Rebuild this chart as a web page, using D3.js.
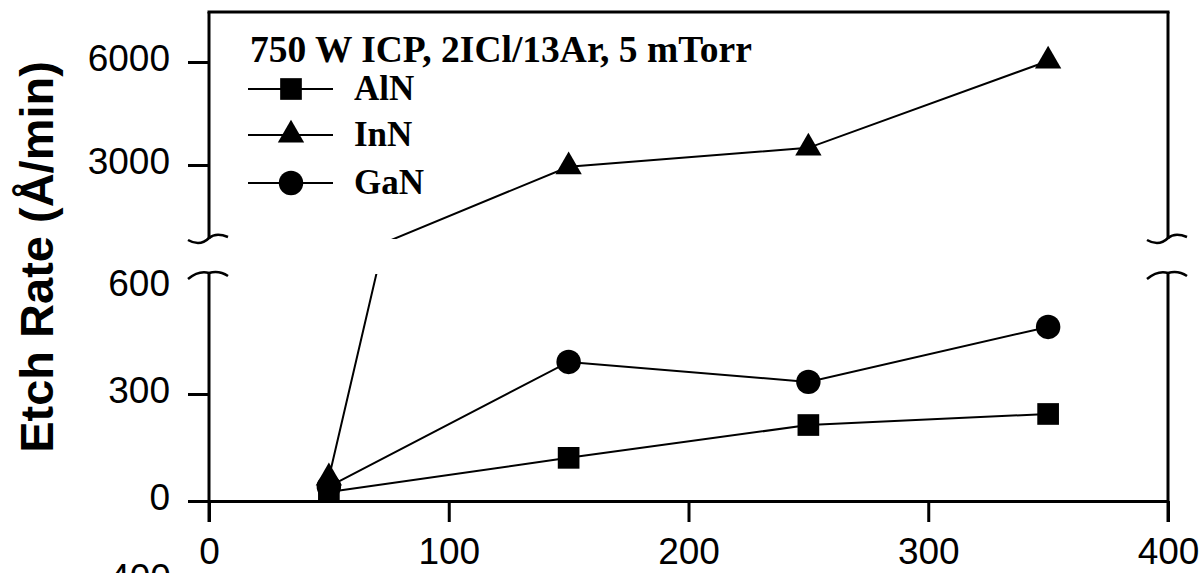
<!DOCTYPE html>
<html lang="en">
<head>
    <meta charset="UTF-8">
    <title>Etch Rate vs power</title>
    <script src="https://d3js.org/d3.v7.min.js"></script>
    <style>
        body { margin: 0; background: white; }
        .tick text { font-family: "Liberation Sans", Arial, sans-serif; }
    </style>
</head>
<body>
    <div id="plot"></div>
    <script>
        // data
        const xValues = [50, 150, 250, 350];
        const alnRates = [25, 121, 213, 244];
        const innRates = [65, 2950, 3500, 6030];
        const ganRates = [40, 390, 334, 488];
        const seriesNames = ["AlN", "InN", "GaN"];
        const xTicks = [0, 100, 200, 300, 400];
        const lowTicks = [0, 300, 600];
        const highTicks = [3000, 6000];
        const legendTitle = "750 W ICP, 2ICl/13Ar, 5 mTorr";
        const yTitle = "Etch Rate (Å/min)";

        const width = 1200;
        const height = 573;
        const left = 209, right = 1168;
        const frameTop = 12;
        const lowBreak = 273, highBreak = 239;
        const tickFont = 37;

        const svg = d3.select("#plot")
            .append("svg")
            .attr("width", width)
            .attr("height", height);

        const x = d3.scaleLinear().domain([0, 400]).range([left, right]);
        const yLow = d3.scaleLinear().domain([0, 600]).range([501, 287]);
        const yHigh = d3.scaleLinear().domain([3000, 6000]).range([165, 62]);

        // clip regions for the two parts of the broken axis
        const defs = svg.append("defs");
        defs.append("clipPath").attr("id", "clipLow")
            .append("rect").attr("x", 150).attr("y", lowBreak + 1).attr("width", 1050).attr("height", 560 - lowBreak);
        defs.append("clipPath").attr("id", "clipHigh")
            .append("rect").attr("x", 150).attr("y", frameTop).attr("width", 1050).attr("height", highBreak - frameTop);

        // x axis
        const xAxis = svg.append("g")
            .attr("transform", `translate(0,${yLow(0)})`)
            .call(d3.axisBottom(x).tickValues(xTicks).tickFormat(d3.format("d"))
                .tickSize(21).tickSizeOuter(0).tickPadding(16));
        xAxis.selectAll("path, line").attr("stroke-width", 3);
        xAxis.selectAll("text").attr("font-size", tickFont);

        // y axes (lower and upper parts)
        const lowAxis = svg.append("g")
            .attr("transform", `translate(${left},0)`)
            .call(d3.axisLeft(yLow).tickValues(lowTicks).tickFormat(d3.format("d")).tickSize(21).tickPadding(18));
        lowAxis.select(".domain").remove();
        lowAxis.selectAll("line").attr("stroke-width", 3);
        lowAxis.selectAll(".tick").filter(d => d === 600).select("line").remove();
        lowAxis.selectAll("text").attr("font-size", tickFont).attr("dy", "0.24em");

        const highAxis = svg.append("g")
            .attr("transform", `translate(${left},0)`)
            .call(d3.axisLeft(yHigh).tickValues(highTicks).tickFormat(d3.format("d")).tickSize(21).tickPadding(18));
        highAxis.select(".domain").remove();
        highAxis.selectAll("line").attr("stroke-width", 3);
        highAxis.selectAll("text").attr("font-size", tickFont).attr("dy", "0.24em");

        // frame lines
        const frame = svg.append("g").attr("stroke", "black").attr("stroke-width", 3).attr("fill", "none");
        [left, right].forEach(xp => {
            frame.append("line").attr("x1", xp).attr("x2", xp).attr("y1", lowBreak).attr("y2", 522);
            frame.append("line").attr("x1", xp).attr("x2", xp).attr("y1", frameTop).attr("y2", highBreak);
            // break marks
            frame.append("path").attr("stroke-width", 2.5)
                .attr("d", `M${xp - 21},${highBreak + 1} Q${xp - 9},${highBreak + 8} ${xp},${highBreak - 1} Q${xp + 7},${highBreak - 7} ${xp + 19},${highBreak - 2}`);
            frame.append("path").attr("stroke-width", 2.5)
                .attr("d", `M${xp - 21},${lowBreak + 6} Q${xp - 10},${lowBreak - 3} ${xp},${lowBreak} Q${xp + 10},${lowBreak - 3} ${xp + 19},${lowBreak + 3}`);
        });
        frame.append("line").attr("x1", left - 1.5).attr("x2", right + 1.5).attr("y1", frameTop).attr("y2", frameTop);

        // series
        const series = [
            { name: seriesNames[0], values: alnRates, symbol: d3.symbolSquare, size: 470 },
            { name: seriesNames[1], values: innRates, symbol: d3.symbolTriangle, size: 300 },
            { name: seriesNames[2], values: ganRates, symbol: d3.symbolCircle, size: 470 }
        ];

        const segments = [
            { scale: yLow, clip: "url(#clipLow)", has: v => v < 700 },
            { scale: yHigh, clip: "url(#clipHigh)", has: v => v >= 700 }
        ];

        segments.forEach(seg => {
            const g = svg.append("g").attr("clip-path", seg.clip);
            const line = d3.line()
                .x((d, i) => x(xValues[i]))
                .y(d => seg.scale(d));
            series.forEach(s => {
                g.append("path")
                    .attr("d", line(s.values))
                    .attr("fill", "none")
                    .attr("stroke", "black")
                    .attr("stroke-width", 2);
            });
            series.forEach(s => {
                g.selectAll(null)
                    .data(s.values.map((v, i) => ({ x: xValues[i], y: v })).filter(d => seg.has(d.y)))
                    .enter()
                    .append("path")
                    .attr("d", d3.symbol().type(s.symbol).size(s.size))
                    .attr("transform", d => `translate(${x(d.x)},${seg.scale(d.y)})`)
                    .attr("fill", "black");
            });
        });

        // legend
        svg.append("text")
            .attr("x", 250)
            .attr("y", 62)
            .attr("font-family", "Liberation Serif, Times New Roman, serif")
            .attr("font-weight", "bold")
            .attr("font-size", 37.5)
            .text(legendTitle);

        const legendY = [89, 135, 183];
        series.forEach((s, i) => {
            const lg = svg.append("g").attr("transform", `translate(0,${legendY[i]})`);
            lg.append("line")
                .attr("x1", 248).attr("x2", 333)
                .attr("stroke", "black").attr("stroke-width", 2);
            lg.append("path")
                .attr("d", d3.symbol().type(s.symbol).size(s.size))
                .attr("transform", "translate(291,0)")
                .attr("fill", "black");
            lg.append("text")
                .attr("x", 354)
                .attr("y", 11)
                .attr("font-family", "Liberation Serif, Times New Roman, serif")
                .attr("font-weight", "bold")
                .attr("font-size", 35)
                .text(s.name);
        });

        // y axis title
        svg.append("text")
            .attr("transform", "translate(53,257) rotate(-90)")
            .attr("text-anchor", "middle")
            .attr("font-family", "Liberation Sans, Arial, sans-serif")
            .attr("font-weight", "bold")
            .attr("font-size", 47)
            .text(yTitle);

        // cut-off label at the bottom edge (from the next panel)
        svg.append("text")
            .attr("x", 140)
            .attr("y", 590)
            .attr("text-anchor", "middle")
            .attr("font-family", "Liberation Sans, Arial, sans-serif")
            .attr("font-size", tickFont)
            .text("400");
    </script>
</body>
</html>
